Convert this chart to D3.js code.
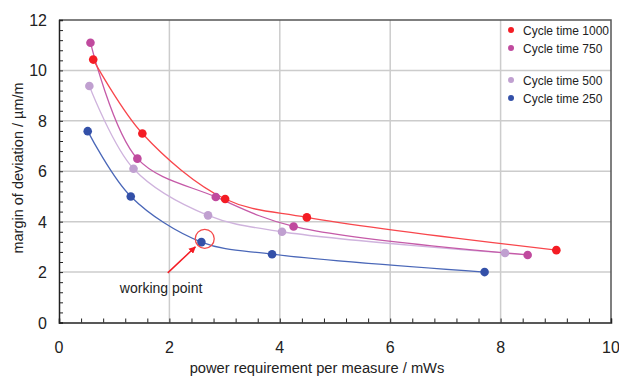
<!DOCTYPE html>
<html><head><meta charset="utf-8">
<script src="https://cdn.jsdelivr.net/npm/d3@7"></script>
<style>body{margin:0;background:#fff}svg{display:block;font-family:"Liberation Sans",Arial,sans-serif}</style>
</head><body><svg id="c" width="619" height="378"></svg>
<script>
const seriesNames = ["Cycle time 1000","Cycle time 750","Cycle time 500","Cycle time 250"];
const x1000 = [0.62,1.51,3.01,4.49,9.01];
const y1000 = [10.43,7.50,4.90,4.17,2.87];
const x750 = [0.57,1.42,2.84,4.25,8.49];
const y750 = [11.10,6.50,4.98,3.81,2.68];
const x500 = [0.55,1.35,2.70,4.04,8.08];
const y500 = [9.38,6.10,4.25,3.60,2.76];
const x250 = [0.52,1.30,2.58,3.86,7.71];
const y250 = [7.59,5.00,3.19,2.71,2.00];
const xTicks = [0,2,4,6,8,10];
const yTicks = [0,2,4,6,8,10,12];
const markerColors = ["#f41c24","#c04a9e","#c0a0d0","#3350a8"];
const lineColors = ["#f8464c","#c55aa8","#cfb3dd","#4a67b8"];
const workingPoint = {x:2.64, y:3.32};
const arrowFrom = {x:1.97, y:1.97};
const arrowTo = {x:2.47, y:3.0};
const annotationText = "working point";

const svg = d3.select("#c");
const L=59, R=611, T=20, B=322.5;
const x = d3.scaleLinear().domain([0,10]).range([L,R]);
const y = d3.scaleLinear().domain([0,12]).range([B,T]);

// grid
const g = svg.append("g");
g.selectAll(".vg").data(xTicks.slice(1,-1)).enter().append("line")
 .attr("x1",d=>x(d)).attr("x2",d=>x(d)).attr("y1",T).attr("y2",B)
 .attr("stroke","#cccccc").attr("stroke-width",1.5);
g.selectAll(".hg").data(yTicks.slice(1,-1)).enter().append("line")
 .attr("y1",d=>y(d)).attr("y2",d=>y(d)).attr("x1",L).attr("x2",R)
 .attr("stroke","#cccccc").attr("stroke-width",1.5);
// border top/right
svg.append("path").attr("d",`M${L},${T}H${R}V${B}`).attr("fill","none").attr("stroke","#555").attr("stroke-width",1.5);

// axes
const minorX = d3.range(0,10.001,0.4);
const minorY = d3.range(0,12.001,0.4);
const xAxis = d3.axisBottom(x).tickValues(minorX).tickSize(-4).tickFormat("");
const yAxis = d3.axisLeft(y).tickValues(minorY).tickSize(-4).tickFormat("");
svg.append("g").attr("transform",`translate(0,${B})`).call(xAxis)
 .call(s=>{s.select(".domain").attr("stroke","#222").attr("stroke-width",1.5);s.selectAll(".tick line").attr("stroke","#222");});
svg.append("g").attr("transform",`translate(${L},0)`).call(yAxis)
 .call(s=>{s.select(".domain").attr("stroke","#222").attr("stroke-width",1.5);s.selectAll(".tick line").attr("stroke","#222");});

svg.append("g").selectAll("text").data(xTicks).enter().append("text")
 .attr("x",d=>x(d)).attr("y",353).attr("text-anchor","middle")
 .attr("font-size",16).attr("fill","#222").text(d=>d);
svg.append("g").selectAll("text").data(yTicks).enter().append("text")
 .attr("x",47).attr("y",d=>y(d)+6).attr("text-anchor","end")
 .attr("font-size",16).attr("fill","#222").text(d=>d);

svg.append("text").attr("x",317).attr("y",373).attr("text-anchor","middle")
 .attr("font-size",14.7).attr("fill","#222").text("power requirement per measure / mWs");
svg.append("text").attr("transform","translate(23,168) rotate(-90)").attr("text-anchor","middle")
 .attr("font-size",14.5).attr("fill","#222").text("margin of deviation / µm/m");

// series
const xs=[x1000,x750,x500,x250], ys=[y1000,y750,y500,y250];
const line = d3.line().x(d=>x(d[0])).y(d=>y(d[1])).curve(d3.curveCatmullRom.alpha(0.5));
const order=[2,1,0,3];
order.forEach(i=>{
  const pts = xs[i].map((v,j)=>[v,ys[i][j]]);
  svg.append("path").attr("d",line(pts)).attr("fill","none").attr("stroke",lineColors[i]).attr("stroke-width",1.3);
});
order.forEach(i=>{
  const pts = xs[i].map((v,j)=>[v,ys[i][j]]);
  svg.append("g").selectAll("circle").data(pts).enter().append("circle")
   .attr("cx",d=>x(d[0])).attr("cy",d=>y(d[1])).attr("r",4.3).attr("fill",markerColors[i]);
});

// legend
const ly=[30,48,80,98];
seriesNames.forEach((n,i)=>{
  svg.append("circle").attr("cx",511).attr("cy",ly[i]).attr("r",3).attr("fill",markerColors[i]);
  svg.append("text").attr("x",523).attr("y",ly[i]+4.5).attr("font-size",12).attr("fill","#222").text(n);
});

// annotation
svg.append("defs").append("marker").attr("id","ah").attr("viewBox","0 0 10 10").attr("refX",9).attr("refY",5)
 .attr("markerWidth",7).attr("markerHeight",7).attr("orient","auto").attr("markerUnits","userSpaceOnUse")
 .append("path").attr("d","M0,0L10,5L0,10z").attr("fill","#f41c24");
svg.append("line").attr("x1",x(arrowFrom.x)).attr("y1",y(arrowFrom.y)).attr("x2",x(arrowTo.x)).attr("y2",y(arrowTo.y))
 .attr("stroke","#f41c24").attr("stroke-width",1.5).attr("marker-end","url(#ah)");
svg.append("circle").attr("cx",x(workingPoint.x)).attr("cy",y(workingPoint.y)).attr("r",9.5)
 .attr("fill","none").attr("stroke","#f44a4a").attr("stroke-width",1.3);
svg.append("text").attr("x",x(1.85)).attr("y",y(1.18)).attr("text-anchor","middle")
 .attr("font-size",14).attr("fill","#222").text(annotationText);
</script></body></html>
